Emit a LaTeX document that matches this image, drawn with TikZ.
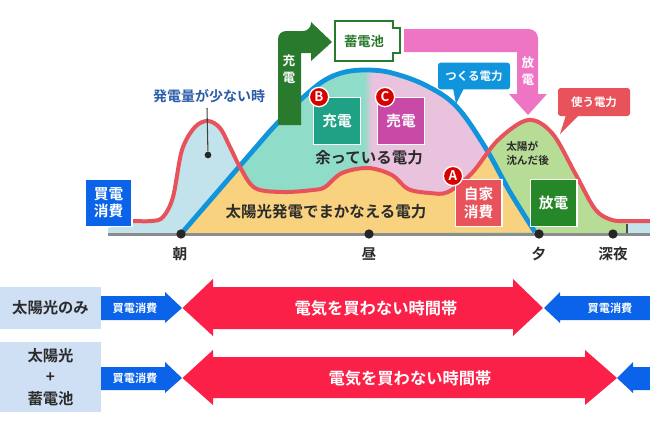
\documentclass[tikz,border=0pt]{standalone}
\usepackage{fontspec}
\setmainfont{Noto Sans CJK JP}[BoldFont={* Bold}]
\usetikzlibrary{positioning,calc}
\definecolor{buyblue}{HTML}{0A63E8}
\definecolor{skyline}{HTML}{1095DD}
\definecolor{useline}{HTML}{E8525A}
\definecolor{paleblue}{HTML}{C2E2EC}
\definecolor{paleteal}{HTML}{8FDCC8}
\definecolor{palepink}{HTML}{E9C2DE}
\definecolor{paleorange}{HTML}{F8D27F}
\definecolor{palegreen}{HTML}{B6DC96}
\definecolor{chargegreen}{HTML}{2A7A2E}
\definecolor{sellpink}{HTML}{C84AA6}
\definecolor{chargeteal}{HTML}{1EA184}
\definecolor{flowpink}{HTML}{EE74C4}
\definecolor{crimson}{HTML}{FA2048}
\definecolor{rowblue}{HTML}{CFE0F5}
\definecolor{inkdark}{HTML}{2B2B2B}
\definecolor{lownavy}{HTML}{2A5CA8}
\newcommand{\fsz}[2]{\fontsize{#1}{#2}\selectfont\bfseries}
\def\redcurve{-- plot[smooth,tension=.55] coordinates {(133,221) (152,221) (163,217) (173,197) (182,150) (195,127) (208,121) (220,128) (230,147) (240,167) (255,188) (283,192) (313,190) (325,187) (342,173) (368,168) (392,175) (408,189) (430,193) (448,192) (472,173) (498,140) (528,120) (552,133) (575,173) (595,209) (612,220) (630,221) (650,221)}}
\def\bluecurve{-- plot[smooth,tension=.6] coordinates {(270,131) (290,110) (307,94) (325,80) (345,72) (368,70) (392,73) (425,85) (456,106) (485,147) (510,192) (535,232)}}
\tikzset{
	square/.style={minimum size=35pt,inner sep=0pt,draw=white,line width=1pt,text=white,align=center,font=\fsz{11}{13}},
	badge/.style={circle,fill=red!85!black,draw=white,line width=1pt,minimum size=14.5pt,inner sep=0pt,text=white,font=\fsz{10}{10}},
	dot/.style={circle,fill=black!85,minimum size=7pt,inner sep=0pt},
	tick/.style={text=inkdark,align=center,font=\fsz{11}{13}},
	head/.style={text=inkdark,font=\fsz{11.6}{14}},
	rowbox/.style={fill=rowblue,text=inkdark,minimum width=76pt,inner sep=0pt,align=center,font=\fsz{11.5}{16}},
	buytext/.style={text=white,font=\fsz{8.4}{10}},
	freetext/.style={text=white,font=\fsz{12.2}{14}},
}
\begin{document}
\begin{tikzpicture}[x=0.75pt,y=-0.75pt]
	\useasboundingbox (0,0) rectangle (650,433);
	% areas above the demand line
	\begin{scope}
		\clip (181,234) \bluecurve -- cycle;
		\fill[paleteal] (170,60) rectangle (364,240);
		\fill[palepink] (372,60) rectangle (540,240);
		\shade[left color=paleteal,right color=palepink] (364,60) rectangle (372,240);
	\end{scope}
	% areas under the demand line
	\begin{scope}
		\clip (108,228) \redcurve -- (650,234) -- (108,234) -- cycle;
		\fill[paleblue] (100,100) rectangle (368,240);
		\fill[paleblue] (627,100) rectangle (650,240);
		\fill[palegreen] (368,100) rectangle (627,240);
		\begin{scope}
			\clip (181,234) \bluecurve -- cycle;
			\fill[paleorange] (170,60) rectangle (540,240);
		\end{scope}
	\end{scope}
	\draw[black!70,line width=1pt] (627,224) -- (627,234);
	\draw[black!45,line width=2.2pt] (108,234.5) -- (650,234.5);
	\draw[skyline,line width=3.6pt] (181,234) \bluecurve;
	\draw[useline,line width=3pt] (133,221) \redcurve;
	% axis
	\node[dot] (asa) at (181,234) {};
	\node[dot] (hiru) at (369,234) {};
	\node[dot] (yu) at (539,234) {};
	\node[dot] (shinya) at (613,234) {};
	\node[tick] (asatext) at (180,254) {朝};
	\node[tick] (hirutext) at (369,254) {昼};
	\node[tick] (yutext) at (539,254) {夕};
	\node[tick] (shinyatext) at (613,254) {深夜};
	% charge and discharge flows
	\fill[chargegreen,rounded corners=6pt] (278,125) -- (278,31) -- (311,31) [sharp corners] -- (311,22) -- (332,42) -- (311,61) -- (311,53) -- (301,53) -- (301,125) -- cycle;
	\fill[flowpink,rounded corners=7pt] (404,29) -- (538,29) -- (538,60) [sharp corners] -- (538,94) -- (547,94) -- (528,115) -- (509,94) -- (517,94) -- (517,52) -- (404,52) -- cycle;
	\node[text=white,align=center,font=\fsz{9.5}{13}] (chargeflow) at (289,69) {充\\電};
	\node[text=white,align=center,font=\fsz{9.5}{13}] (dischargeflow) at (528,71) {放\\電};
	\draw[chargegreen,line width=1.2pt,fill=white] (335,21) -- (393,21) -- (393,28) -- (400,28) -- (400,53) -- (393,53) -- (393,61) -- (335,61) -- cycle;
	\node[text=chargegreen,font=\fsz{10}{12}] (battery) at (364,41) {蓄電池};
	% callouts
	\node[fill=skyline,text=white,rounded corners=2pt,minimum width=54pt,minimum height=20pt,inner sep=0pt,font=\fsz{8.6}{10}] (make) at (474,76) {つくる電力};
	\coordinate (maketip) at (456,104);
	\fill[skyline] (453,88) -- (maketip) -- (464,88) -- cycle;
	\node[fill=useline,text=white,rounded corners=2pt,minimum width=54pt,minimum height=21pt,inner sep=0pt,font=\fsz{8.6}{10}] (use) at (594,102) {使う電力};
	\coordinate (usetip) at (560,134);
	\fill[useline] (566,115) -- (usetip) -- (579,115) -- cycle;
	\node[font=\fsz{10.5}{12},text=lownavy] (lowgen) at (209,96) {発電量が少ない時};
	\node[circle,fill=black!85,minimum size=5pt,inner sep=0pt] (lowdot) at (208,155) {};
	\coordinate (lowtop) at (207,108);
	\draw[black!75,line width=.8pt] (lowdot) -- (lowtop);
	\node[anchor=west,align=left,text=inkdark,inner sep=0pt,font=\fsz{8}{10.5}] (sunset) at (506,153) {太陽が\\沈んだ後};
	% area titles
	\node[head] (surplus) at (369,158) {余っている電力};
	\node[head] (covered) at (326,212) {太陽光発電でまかなえる電力};
	\node[square,fill=buyblue] (buy) at (108.5,203) {買電\\消費};
	\node[square,fill=chargeteal] (charge) at (337,121) {充電};
	\node[square,fill=sellpink] (sell) at (401,121) {売電};
	\node[square,fill=useline] (self) at (478.5,203) {自家\\消費};
	\node[square,fill=chargegreen!90!green] (discharge) at (553.5,203) {放電};
	\node[badge] (badgeb) at (319,97) {B};
	\node[badge] (badgec) at (385,97) {C};
	\node[badge] (badgea) at (453,176) {A};
	% solar only row
	\node[rowbox,minimum height=31.5pt] (solaronly) at (50.5,308) {太陽光のみ};
	\fill[buyblue] (101,296) -- (165,296) -- (165,292) -- (182,308) -- (165,323) -- (165,320) -- (101,320) -- cycle;
	\fill[crimson] (182.5,308) -- (213,279) -- (213,287) -- (513,287) -- (513,279) -- (543,308) -- (513,336) -- (513,329) -- (213,329) -- (213,336) -- cycle;
	\fill[buyblue] (650,296) -- (560,296) -- (560,292) -- (544,308) -- (560,323) -- (560,320) -- (650,320) -- cycle;
	\node[buytext] (buyleft) at (135,308) {買電消費};
	\node[freetext] (freeone) at (376,308) {電気を買わない時間帯};
	\node[buytext] (buyright) at (610,308) {買電消費};
	% solar plus battery row
	\node[rowbox,minimum height=52.5pt] (solarbattery) at (50.5,377) {太陽光\\+\\蓄電池};
	\fill[buyblue] (101,367) -- (165,367) -- (165,362) -- (182,378) -- (165,393) -- (165,390) -- (101,390) -- cycle;
	\fill[crimson] (182.5,378) -- (213,350) -- (213,357) -- (585,357) -- (585,350) -- (617,378) -- (585,405) -- (585,398) -- (213,398) -- (213,405) -- cycle;
	\fill[buyblue] (650,367) -- (633,367) -- (633,362) -- (617,378) -- (633,393) -- (633,390) -- (650,390) -- cycle;
	\node[buytext] (buylower) at (135,378) {買電消費};
	\node[freetext] (freetwo) at (410,378) {電気を買わない時間帯};
\end{tikzpicture}
\end{document}
